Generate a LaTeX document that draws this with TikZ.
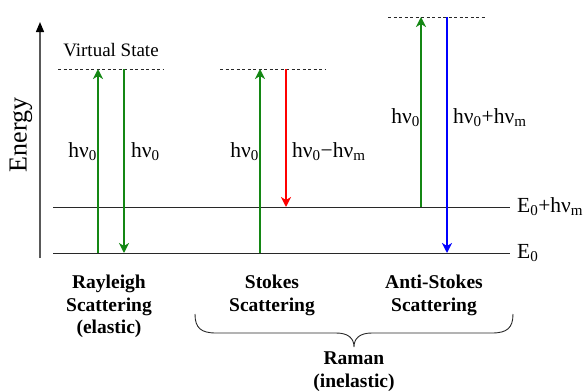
\documentclass[tikz,border=0pt]{standalone}
\usepackage{fontspec}
\setmainfont{Liberation Serif}
\usetikzlibrary{arrows.meta}
\definecolor{grn}{RGB}{20,135,20}
\definecolor{lvl}{RGB}{40,40,40}
\begin{document}
\begin{tikzpicture}[x=1pt,y=-1pt,
  level/.style={draw=lvl,line width=1pt},
  virt/.style={draw=lvl,line width=0.8pt,dash pattern=on 3pt off 2.5pt},
  photon/.style={line width=2.4pt,-{Stealth[length=10pt,width=10pt,inset=3pt]}},
  lbl/.style={font=\fontsize{21.5}{24}\selectfont,inner sep=1pt},
  captxt/.style={font=\fontsize{19.5}{22.5}\selectfont\bfseries,align=center,inner sep=0pt,anchor=north}]
\useasboundingbox (0,0) rectangle (587,391);
% energy axis
\coordinate (ax0) at (40,258);
\coordinate (ax1) at (40,22);
\draw[gray!70!black,line width=1.3pt,-{Triangle[length=10pt,width=8pt,color=black]}] (ax0) -- (ax1);
\node[rotate=90,font=\fontsize{26}{28}\selectfont] (en) at (21,135) {Energy};
% levels
\coordinate (g0) at (53,253); \coordinate (g1) at (510,253);
\coordinate (v0) at (53,207); \coordinate (v1) at (510,207);
\draw[level] (g0) -- (g1);
\draw[level] (v0) -- (v1);
\node[lbl,anchor=west] (lE0) at (516,253) {E\textsubscript{0}};
\node[lbl,anchor=west] (lE1) at (516,207) {E\textsubscript{0}+hν\textsubscript{m}};
% virtual states
\coordinate (a0) at (58,69); \coordinate (a1) at (163,69);
\coordinate (b0) at (220,69); \coordinate (b1) at (325,69);
\coordinate (c0) at (388,17); \coordinate (c1) at (486,17);
\draw[virt] (a0) -- (a1);
\draw[virt] (b0) -- (b1);
\draw[virt] (c0) -- (c1);
\node[font=\fontsize{19}{21}\selectfont] (vs) at (111,50) {Virtual State};
% Rayleigh
\coordinate (r1s) at (98,253); \coordinate (r1e) at (98,69);
\coordinate (r2s) at (124,69); \coordinate (r2e) at (124,253);
\draw[photon,grn] (r1s) -- (r1e);
\draw[photon,grn] (r2s) -- (r2e);
\node[lbl,anchor=east] (lr1) at (98,152) {hν\textsubscript{0}};
\node[lbl,anchor=west] (lr2) at (130,152) {hν\textsubscript{0}};
% Stokes
\coordinate (s1s) at (260,253); \coordinate (s1e) at (260,69);
\coordinate (s2s) at (286,69); \coordinate (s2e) at (286,207);
\draw[photon,grn] (s1s) -- (s1e);
\draw[photon,red] (s2s) -- (s2e);
\node[lbl,anchor=east] (ls1) at (260,152) {hν\textsubscript{0}};
\node[lbl,anchor=west] (ls2) at (291,152) {hν\textsubscript{0}−hν\textsubscript{m}};
% Anti-Stokes
\coordinate (t1s) at (421,207); \coordinate (t1e) at (421,17);
\coordinate (t2s) at (447,17); \coordinate (t2e) at (447,253);
\draw[photon,grn] (t1s) -- (t1e);
\draw[photon,blue] (t2s) -- (t2e);
\node[lbl,anchor=east] (lt1) at (421,118) {hν\textsubscript{0}};
\node[lbl,anchor=west] (lt2) at (452,118) {hν\textsubscript{0}+hν\textsubscript{m}};
% captions
\node[captxt] (cr) at (109,275) {Rayleigh\\Scattering\\(elastic)};
\node[captxt] (cs) at (272,275) {Stokes\\Scattering};
\node[captxt] (ca) at (434,275) {Anti-Stokes\\Scattering};
% brace
\coordinate (bl) at (195,314); \coordinate (bm) at (354,347); \coordinate (br) at (513,314);
\draw[lvl,line width=0.9pt] (bl) .. controls (195,328) and (201,333) .. (216,333)
  -- (336,333) .. controls (348,333) and (354,338) .. (bm)
  .. controls (354,338) and (360,333) .. (372,333)
  -- (492,333) .. controls (507,333) and (513,328) .. (br);
\node[captxt] (cm) at (354,352) {Raman\\(inelastic)};
\end{tikzpicture}
\end{document}
